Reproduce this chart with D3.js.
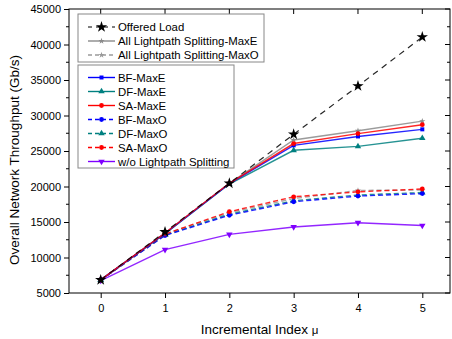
<!DOCTYPE html>
<html><head><meta charset="utf-8">
<script src="https://cdn.jsdelivr.net/npm/d3@7"></script>
<style>body{margin:0;background:#fff}svg{display:block;font-family:"Liberation Sans",Arial,sans-serif}</style>
</head><body><svg id="c" width="452" height="339"></svg>
<script>
const xIndex = [0,1,2,3,4,5];
const xTicks = [0,1,2,3,4,5];
const yTicks = [5000,10000,15000,20000,25000,30000,35000,40000,45000];
const offeredLoad = [6850,13600,20450,27350,34150,41050];
const allMaxE = [6850,13450,20450,26550,27850,29200];
const allMaxO = [6850,13300,16300,18300,19450,19500];
const bfMaxE = [6850,13400,20400,25800,27050,28050];
const dfMaxE = [6850,13350,20350,25100,25650,26800];
const saMaxE = [6850,13450,20450,26050,27450,28700];
const bfMaxO = [6850,13100,15950,17850,18650,19000];
const dfMaxO = [6850,13150,16100,18000,18800,19150];
const saMaxO = [6850,13300,16450,18550,19250,19650];
const woSplit = [6750,11100,13250,14300,14900,14500];

const series = [
  {name:"All Lightpath Splitting-MaxE", vals:allMaxE, color:"#8a8a8a", dash:null, sym:d3.symbolStar, size:12, box:1},
  {name:"All Lightpath Splitting-MaxO", vals:allMaxO, color:"#9a9a9a", dash:"5,3", sym:d3.symbolStar, size:12, box:1},
  {name:"w/o Lightpath Splitting", vals:woSplit, color:"#8000ff", dash:null, sym:d3.symbolTriangle, size:18, rot:180, box:2},
  {name:"DF-MaxO", vals:dfMaxO, color:"#008080", dash:"5,3", sym:d3.symbolTriangle, size:18, box:2},
  {name:"BF-MaxO", vals:bfMaxO, color:"#0000ff", dash:"5,3", sym:d3.symbolCircle, size:18, box:2},
  {name:"SA-MaxO", vals:saMaxO, color:"#ff0000", dash:"5,3", sym:d3.symbolCircle, size:18, box:2},
  {name:"DF-MaxE", vals:dfMaxE, color:"#008080", dash:null, sym:d3.symbolTriangle, size:18, box:2},
  {name:"BF-MaxE", vals:bfMaxE, color:"#0000ff", dash:null, sym:d3.symbolSquare, size:16, box:2},
  {name:"SA-MaxE", vals:saMaxE, color:"#ff0000", dash:null, sym:d3.symbolCircle, size:18, box:2},
  {name:"Offered Load", vals:offeredLoad, color:"#000000", dash:"6,5", sym:d3.symbolStar, size:40, box:1}
];

const svg = d3.select("#c");
const L=69, R=450, T=9, B=293;
const x = d3.scaleLinear().domain([0,5]).range([100.7,422.3]);
const y = d3.scaleLinear().domain([5000,45000]).range([B,T]);

svg.append("rect").attr("x",L).attr("y",T).attr("width",R-L).attr("height",B-T)
  .attr("fill","none").attr("stroke","#000").attr("stroke-width",1);

const minorY = d3.range(7500,45000,5000);
const gl = svg.append("g").attr("transform",`translate(${L},0)`)
  .call(d3.axisLeft(y).tickValues(yTicks).tickSize(5).tickPadding(3).tickFormat(d3.format("d")));
gl.select(".domain").remove();
gl.selectAll("text").attr("font-size",11).attr("fill","#000").attr("font-family","Liberation Sans, Arial, sans-serif");
svg.append("g").selectAll("line").data(minorY).join("line")
  .attr("x1",L-3).attr("x2",L).attr("y1",d=>y(d)).attr("y2",d=>y(d)).attr("stroke","#000");
svg.append("g").selectAll("line").data(yTicks).join("line")
  .attr("x1",R-5).attr("x2",R).attr("y1",d=>y(d)).attr("y2",d=>y(d)).attr("stroke","#000");
svg.append("g").selectAll("line").data(minorY).join("line")
  .attr("x1",R-3).attr("x2",R).attr("y1",d=>y(d)).attr("y2",d=>y(d)).attr("stroke","#000");
const gb = svg.append("g").attr("transform",`translate(0,${B})`)
  .call(d3.axisBottom(x).tickValues(xTicks).tickSize(5).tickPadding(6).tickFormat(d3.format("d")));
gb.select(".domain").remove();
gb.selectAll("text").attr("font-size",11).attr("fill","#000").attr("font-family","Liberation Sans, Arial, sans-serif");
svg.append("g").selectAll("line").data(xTicks).join("line")
  .attr("x1",d=>x(d)).attr("x2",d=>x(d)).attr("y1",T).attr("y2",T+5).attr("stroke","#000");

const xt = svg.append("text").attr("x",(L+R)/2).attr("y",334).attr("text-anchor","middle")
  .attr("font-size",13.5).text("Incremental Index ");
xt.append("tspan").attr("font-size",11.5).text("μ");
svg.append("text").attr("transform","translate(19,160) rotate(-90)").attr("text-anchor","middle")
  .attr("font-size",13.5).text("Overall Network Throughput (Gb/s)");

const line = d3.line().x((d,i)=>x(xIndex[i])).y(d=>y(d));
const sym = (s)=>d3.symbol().type(s.sym).size(s.size)();
series.forEach(s=>{
  svg.append("path").attr("d",line(s.vals)).attr("fill","none").attr("stroke",s.color)
    .attr("stroke-width",s.name==="Offered Load"?1.2:1.4).attr("stroke-dasharray",s.dash).attr("stroke-opacity",0.85);
  svg.append("g").selectAll("path").data(s.vals).join("path")
    .attr("d",sym(s)).attr("fill",s.color)
    .attr("transform",(d,i)=>`translate(${x(xIndex[i])},${y(d)}) rotate(${s.rot||0})`);
});

function legend(items, bx, by, bw, bh, y0){
  svg.append("rect").attr("x",bx).attr("y",by).attr("width",bw).attr("height",bh)
    .attr("fill","#fff").attr("stroke","#888").attr("stroke-width",1);
  items.forEach((s,i)=>{
    const yy = y0 + i*14;
    svg.append("line").attr("x1",88).attr("x2",115).attr("y1",yy).attr("y2",yy)
      .attr("stroke",s.color).attr("stroke-width",s.name==="Offered Load"?1.2:1.4).attr("stroke-dasharray",s.dash?(s.name==="Offered Load"?"4,4":"4,3"):null);
    svg.append("path").attr("d",sym(s)).attr("fill",s.color).attr("transform",`translate(101.5,${yy}) rotate(${s.rot||0})`);
    svg.append("text").attr("x",118).attr("y",yy+4.2).attr("font-size",11.4).attr("fill","#000").text(s.name);
  });
}
const byName = n=>series.find(s=>s.name===n);
legend(["Offered Load","All Lightpath Splitting-MaxE","All Lightpath Splitting-MaxO"].map(byName),78,14,186,48,27);
legend(["BF-MaxE","DF-MaxE","SA-MaxE","BF-MaxO","DF-MaxO","SA-MaxO","w/o Lightpath Splitting"].map(byName),78,65,156,103,77.5);
</script></body></html>
